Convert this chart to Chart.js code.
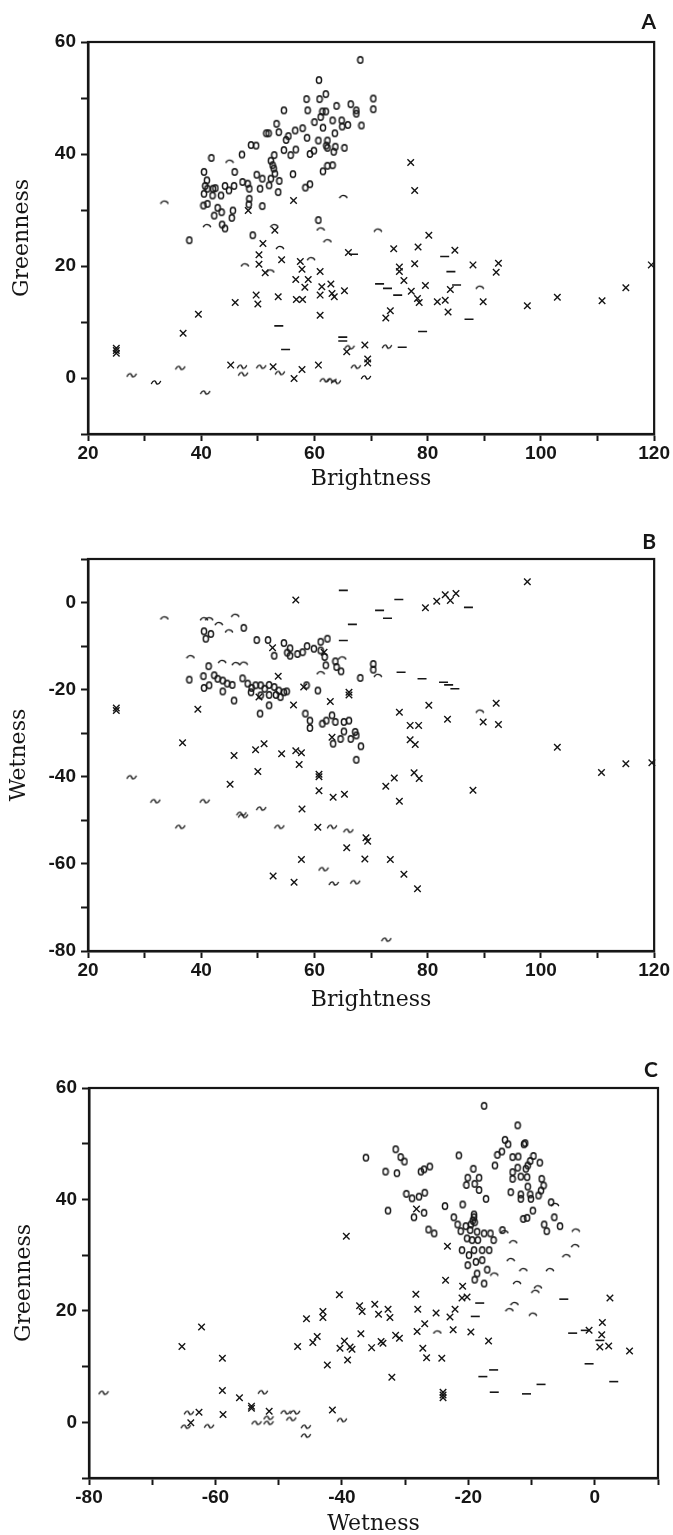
<!DOCTYPE html>
<html>
<head>
<meta charset="utf-8">
<title>Brightness / Greenness / Wetness scatter plots</title>
<script src="https://cdn.jsdelivr.net/npm/chart.js@4.4.1/dist/chart.umd.min.js"></script>
<style>
  html, body { margin: 0; padding: 0; background: #fff; overflow: hidden; }
  body { width: 673px; height: 1535px; position: relative; }
  canvas { position: absolute; left: 0; }
</style>
</head>
<body>
<canvas id="panel-a" width="673" height="500" style="top:0"></canvas>
<canvas id="panel-b" width="673" height="500" style="top:515px"></canvas>
<canvas id="panel-c" width="673" height="495" style="top:1040px"></canvas>
<script>
'use strict';

// ---- data: [x, y] pairs ----

// A: Brightness (x) vs Greenness (y)
const aRings = [[68.1,56.8],[60.8,53.2],[62.0,50.7],[58.6,49.8],[60.9,49.8],[70.4,49.9],[70.4,48.0],[63.9,48.6],[66.4,48.9],[54.6,47.8],[58.8,47.8],[61.4,47.6],[62.0,47.6],[67.4,47.8],[67.4,47.2],[68.3,45.1],[61.1,46.6],[63.2,46.0],[64.8,46.0],[60.0,45.7],[61.5,44.7],[64.9,44.9],[65.9,45.2],[57.9,44.6],[56.6,44.2],[53.3,45.4],[51.5,43.7],[51.9,43.7],[53.7,43.9],[55.4,43.2],[55.0,42.5],[58.7,42.9],[63.6,43.7],[60.7,42.4],[62.3,42.4],[62.1,41.5],[62.3,41.1],[63.7,41.3],[65.3,41.1],[63.4,40.4],[48.8,41.6],[49.7,41.5],[47.2,39.9],[41.8,39.3],[54.6,40.7],[56.7,40.8],[55.8,39.8],[59.2,40.0],[59.9,40.6],[52.3,38.8],[52.9,39.8],[52.6,38.0],[52.8,37.4],[53.0,36.5],[52.3,35.6],[56.2,36.4],[62.3,37.9],[63.2,38.0],[61.5,36.9],[40.5,36.8],[45.9,36.8],[41.0,35.3],[40.7,34.3],[41.1,33.8],[42.1,33.8],[42.5,33.9],[44.2,34.3],[44.9,33.5],[45.8,34.3],[47.3,35.0],[48.2,34.7],[48.5,33.8],[49.8,36.3],[50.8,35.6],[50.4,33.8],[52.0,34.4],[53.8,35.2],[53.6,33.2],[58.4,34.0],[59.2,34.6],[40.5,32.9],[42.0,32.6],[43.5,32.6],[48.5,32.0],[40.4,30.8],[41.1,31.1],[42.9,30.4],[42.3,29.0],[43.6,29.6],[45.6,29.9],[45.4,28.6],[48.4,31.0],[50.8,30.7],[43.7,27.4],[44.2,26.7],[49.1,25.5],[60.7,28.2],[37.9,24.6]];
const aCrosses = [[77.0,38.5],[77.7,33.5],[56.3,31.7],[48.3,29.9],[53.0,26.4],[50.9,24.0],[80.2,25.5],[74.0,23.1],[78.3,23.4],[84.8,22.8],[50.2,22.0],[50.2,20.3],[54.2,21.1],[57.5,20.8],[57.8,19.4],[61.0,19.0],[51.3,18.8],[56.7,17.6],[58.9,17.6],[58.3,16.2],[61.3,16.3],[62.9,16.8],[63.1,15.1],[63.5,14.5],[65.3,15.6],[61.0,14.8],[49.7,14.8],[50.0,13.2],[46.0,13.5],[53.6,14.5],[56.8,14.0],[57.9,14.0],[61.0,11.2],[39.5,11.4],[36.8,8.0],[25.0,5.3],[25.0,4.4],[25.0,4.9],[66.0,22.4],[75.0,19.8],[75.0,19.0],[77.7,20.4],[88.0,20.2],[92.5,20.5],[92.1,18.9],[119.5,20.2],[75.8,17.4],[79.6,16.5],[77.1,15.5],[84.0,15.8],[78.2,14.2],[78.5,13.5],[81.7,13.6],[83.1,13.9],[83.6,11.8],[89.8,13.6],[97.6,12.9],[102.9,14.4],[110.8,13.8],[115.0,16.1],[73.4,12.0],[72.6,10.7],[68.9,5.9],[65.7,4.7],[69.4,3.4],[69.4,2.7],[45.2,2.3],[52.7,2.0],[57.8,1.5],[56.4,-0.1],[60.7,2.3]];
const aTildes = [[27.7,0.5],[32.0,-0.8],[36.3,1.8],[40.7,-2.6],[47.2,2.0],[47.4,0.7],[50.6,2.0],[53.9,0.9],[61.8,-0.4],[63.0,-0.4],[63.8,-0.7],[67.3,2.0],[69.1,0.1],[66.2,5.5],[72.8,5.6]];
const aDashes = [[53.7,9.3],[54.9,5.1],[65.0,7.3],[65.0,6.6],[75.5,5.5],[71.5,16.8],[72.9,16.0],[74.7,14.8],[83.0,21.7],[84.1,19.0],[85.1,16.6],[87.3,10.5],[79.1,8.3],[66.9,22.1]];
const aArches = [[45.0,38.8],[33.5,31.5],[65.1,32.5],[41.0,27.3],[52.9,27.3],[61.1,26.7],[62.3,24.6],[71.2,26.5],[53.9,23.4],[47.7,20.3],[59.4,21.4],[52.2,19.2],[89.2,16.3]];

// B: Brightness (x) vs Wetness (y)
const bRings = [[47.5,-5.8],[40.5,-6.6],[41.7,-7.2],[40.8,-8.3],[49.8,-8.6],[51.8,-8.6],[54.6,-9.3],[61.1,-9.0],[62.3,-8.3],[52.9,-12.2],[55.7,-10.5],[55.7,-12.2],[57.0,-11.8],[58.7,-10.0],[59.9,-10.6],[61.1,-11.0],[61.8,-12.5],[62.0,-14.4],[63.7,-13.5],[63.9,-14.8],[64.7,-15.8],[68.1,-17.3],[70.4,-14.1],[70.4,-15.4],[57.9,-11.4],[55.2,-11.5],[41.3,-14.6],[37.9,-17.7],[40.4,-16.9],[42.3,-16.7],[42.9,-17.5],[43.8,-17.9],[44.6,-18.6],[45.5,-18.9],[40.5,-19.6],[41.4,-19.0],[43.8,-20.4],[45.8,-22.5],[47.3,-17.4],[48.2,-18.6],[48.9,-19.6],[49.6,-19.0],[50.5,-19.0],[51.2,-19.8],[52.0,-18.9],[52.9,-19.4],[53.7,-20.2],[54.6,-20.6],[55.1,-20.4],[48.8,-20.6],[50.5,-21.3],[52.0,-21.2],[53.2,-21.2],[54.0,-21.7],[52.0,-23.6],[50.4,-25.5],[58.6,-19.0],[60.6,-20.2],[58.4,-25.5],[59.2,-27.1],[59.2,-28.8],[61.4,-27.8],[62.1,-27.1],[63.1,-25.9],[63.7,-27.4],[65.2,-27.4],[66.1,-27.1],[65.2,-29.6],[66.4,-31.3],[67.2,-29.7],[67.4,-30.5],[64.6,-31.3],[63.3,-32.4],[68.2,-33.0],[67.4,-36.1]];
const bCrosses = [[56.7,0.6],[79.6,-1.2],[81.6,0.3],[83.1,1.8],[84.0,0.5],[85.0,2.1],[97.6,4.8],[25.0,-24.2],[25.0,-24.8],[39.4,-24.5],[53.6,-16.9],[58.1,-19.4],[66.1,-20.6],[66.1,-21.2],[56.3,-23.5],[62.8,-22.7],[75.0,-25.2],[80.2,-23.6],[83.5,-26.8],[92.1,-23.1],[89.8,-27.4],[92.5,-28.0],[76.9,-28.2],[78.4,-28.2],[76.9,-31.5],[77.8,-32.6],[36.7,-32.2],[49.6,-33.8],[51.1,-32.4],[54.2,-34.7],[56.7,-34.0],[57.7,-34.5],[45.8,-35.1],[52.6,-10.4],[61.7,-11.4],[50.2,-21.7],[63.1,-30.9],[102.9,-33.2],[115.0,-37.0],[110.7,-39.0],[119.6,-36.8],[57.3,-37.2],[50.0,-38.8],[60.8,-39.4],[60.8,-40.0],[45.1,-41.7],[60.8,-43.2],[63.3,-44.7],[65.3,-44.0],[57.8,-47.4],[72.6,-42.2],[74.1,-40.3],[77.6,-39.1],[78.5,-40.4],[75.0,-45.6],[88.0,-43.1],[60.6,-51.6],[69.1,-54.0],[69.4,-54.8],[65.7,-56.3],[57.7,-59.0],[68.9,-58.9],[73.4,-59.0],[75.8,-62.4],[52.7,-62.8],[56.4,-64.2],[78.2,-65.7]];
const bTildes = [[27.7,-40.1],[31.9,-45.6],[40.6,-45.6],[47.1,-48.5],[47.4,-49.0],[50.6,-47.3],[36.3,-51.5],[53.8,-51.5],[63.1,-51.5],[66.0,-52.4],[61.6,-61.2],[63.4,-64.5],[67.2,-64.2],[72.7,-77.4]];
const bDashes = [[65.1,2.8],[74.9,0.7],[71.5,-1.8],[72.9,-3.6],[87.2,-1.1],[66.7,-5.0],[65.1,-8.7],[75.3,-16.0],[79.0,-17.5],[82.8,-18.3],[83.7,-18.9],[84.8,-19.8]];
const bArches = [[33.5,-3.4],[40.5,-3.6],[41.4,-3.6],[43.1,-4.7],[46.0,-2.8],[44.9,-6.4],[38.1,-12.3],[43.7,-13.4],[46.1,-13.9],[47.5,-13.8],[61.1,-16.0],[64.9,-12.6],[89.2,-24.8],[71.2,-16.6]];

// C: Wetness (x) vs Greenness (y)
const cRings = [[-17.5,56.8],[-12.2,53.3],[-14.2,50.7],[-13.7,49.9],[-11.2,49.9],[-11.0,50.1],[-31.5,49.0],[-30.7,47.6],[-30.1,46.8],[-36.2,47.5],[-21.5,47.9],[-15.8,46.1],[-15.4,48.0],[-14.7,48.6],[-13.0,47.6],[-12.1,47.7],[-9.7,47.8],[-8.7,46.6],[-10.2,46.9],[-10.6,46.1],[-33.1,45.0],[-31.3,44.7],[-27.5,45.0],[-27.0,45.4],[-26.1,45.9],[-19.2,45.5],[-20.1,43.9],[-18.3,43.9],[-20.3,42.6],[-19.0,42.8],[-18.3,41.7],[-17.2,40.1],[-13.0,44.9],[-12.2,45.7],[-10.9,45.5],[-11.7,44.1],[-13.0,43.7],[-10.7,44.0],[-10.6,42.3],[-8.4,43.7],[-8.1,42.5],[-8.5,41.6],[-8.9,40.7],[-13.3,41.3],[-11.7,40.9],[-10.2,40.9],[-11.7,40.1],[-10.1,40.1],[-29.8,41.0],[-28.9,40.2],[-27.8,40.5],[-26.9,41.2],[-32.7,38.0],[-28.6,36.8],[-27.0,37.6],[-23.7,38.8],[-20.9,39.1],[-6.9,39.5],[-6.4,36.8],[-5.5,35.2],[-7.6,34.3],[-8.0,35.5],[-9.8,38.0],[-11.3,36.5],[-10.7,36.7],[-22.3,36.8],[-21.7,35.5],[-26.3,34.6],[-25.4,33.9],[-21.2,34.3],[-20.4,35.2],[-19.6,35.5],[-19.1,36.8],[-19.0,35.9],[-19.7,34.5],[-18.6,34.2],[-17.5,33.9],[-16.5,33.9],[-20.2,33.0],[-19.4,32.7],[-18.5,32.7],[-16.0,32.7],[-21.0,30.9],[-19.1,30.9],[-17.8,30.9],[-16.7,30.9],[-19.9,30.0],[-17.8,29.1],[-20.1,28.2],[-18.8,28.8],[-18.6,26.7],[-17.0,27.4],[-19.0,25.6],[-17.5,24.9],[-14.6,34.5],[-19.1,37.3],[-19.3,36.2]];
const cCrosses = [[-39.3,33.4],[-28.2,38.3],[-23.3,31.6],[-23.6,25.5],[-20.9,24.4],[-21.0,22.3],[-20.2,22.5],[-40.4,22.9],[-28.3,23.0],[2.4,22.3],[-37.2,20.9],[-36.8,19.9],[-34.8,21.2],[-34.2,19.4],[-32.7,20.3],[-32.4,18.8],[-28.0,20.3],[-25.1,19.6],[-22.9,18.9],[-22.1,20.3],[-45.6,18.6],[-43.0,19.9],[-43.0,18.8],[-62.2,17.1],[-65.3,13.6],[-58.9,11.5],[-47.0,13.6],[-44.6,14.3],[-43.9,15.4],[-40.3,13.3],[-39.6,14.6],[-38.7,13.5],[-38.4,13.1],[-37.0,15.9],[-35.3,13.4],[-33.8,14.5],[-33.5,14.2],[-31.5,15.6],[-30.9,15.1],[-28.1,16.3],[-26.9,17.7],[-22.4,16.6],[-19.6,16.2],[-16.8,14.6],[-27.2,13.3],[-26.6,11.6],[-24.2,11.5],[-39.1,11.2],[-42.3,10.3],[-32.1,8.1],[-24.0,5.4],[-24.0,4.4],[-24.0,4.9],[-58.9,5.7],[-56.2,4.4],[-54.3,2.9],[-54.3,2.5],[-51.5,2.0],[-62.6,1.8],[-63.9,-0.1],[-58.8,1.4],[-41.5,2.2],[1.2,17.9],[-0.9,16.5],[1.1,15.7],[0.8,13.5],[2.2,13.7],[5.5,12.8]];
const cTildes = [[-77.7,5.3],[-64.2,1.7],[-64.7,-0.8],[-61.0,-0.7],[-52.5,5.4],[-53.5,-0.1],[-51.6,0.8],[-51.6,-0.1],[-48.9,1.8],[-47.4,1.8],[-48.0,0.6],[-45.7,-0.8],[-45.7,-2.4],[-40.0,0.4]];
const cDashes = [[-18.2,21.4],[-18.9,19.0],[-4.9,22.1],[-3.5,16.0],[-1.5,16.5],[-16.0,9.4],[-17.7,8.2],[-15.9,5.4],[-10.8,5.1],[-8.5,6.8],[-0.9,10.5],[3.0,7.3],[0.8,14.7]];
const cArches = [[-14.3,34.3],[-12.9,32.5],[-13.3,29.3],[-11.3,27.5],[-7.1,27.5],[-12.3,25.2],[-9.0,24.4],[-3.0,34.6],[-3.1,31.8],[-4.5,30.0],[-6.3,39.2],[-15.9,26.7],[-9.4,23.6],[-12.7,21.4],[-13.5,20.3],[-9.8,19.5],[-24.9,16.3]];

// axis ranges
const brightnessRange = [20, 120];
const greennessRange = [-10, 60];
const wetnessRangeB = [-80, 10];
const wetnessRangeC = [-80, 10];

const INK = '#161616';

/**
 * Creates a small canvas used as a plot symbol
 *
 * @param {Number} w width
 * @param {Number} h height
 * @param {Function} draw path builder
 * @returns {HTMLCanvasElement} glyph
 */
const makeGlyph = (w, h, draw) => {
  const c = document.createElement('canvas');
  c.width = w;
  c.height = h;
  const ctx = c.getContext('2d');
  ctx.strokeStyle = INK;
  ctx.lineWidth = 1.45;
  ctx.lineCap = 'round';
  ctx.beginPath();
  draw(ctx);
  ctx.stroke();
  return c;
};

const ringGlyph = makeGlyph(8, 10, (ctx) => ctx.ellipse(4, 5, 2.6, 3.3, 0, 0, Math.PI * 2));
const archGlyph = makeGlyph(10, 6, (ctx) => ctx.arc(5, 6.5, 4, Math.PI * 1.15, Math.PI * 1.85));
const tildeGlyph = makeGlyph(12, 7, (ctx) => {
  ctx.moveTo(1.5, 4.5);
  ctx.bezierCurveTo(3.5, 0.8, 5.5, 1.5, 6, 3.5);
  ctx.bezierCurveTo(6.5, 5.5, 8.5, 6.2, 10.5, 2.5);
});

const SYMBOLS = {
  ring: { pointStyle: ringGlyph, pointRadius: 3 },
  cross: { pointStyle: 'crossRot', pointRadius: 4.6, pointBorderWidth: 1.4 },
  tilde: { pointStyle: tildeGlyph, pointRadius: 3 },
  dash: { pointStyle: 'line', pointRadius: 4.5, pointBorderWidth: 1.6 },
  arch: { pointStyle: archGlyph, pointRadius: 3 }
};

const tickFont = { family: "'Liberation Sans', Arial, sans-serif", size: 19, weight: 'bold', lineHeight: 1 };
const titleFont = { family: "'DejaVu Serif', serif", size: 22, lineHeight: 1 };
const letterFont = { family: "Lato, 'Open Sans', sans-serif", size: 21, weight: 'bold', lineHeight: 1.2 };

/**
 * Draws the closed box round the plot area
 */
const framePlugin = {
  id: 'frame',
  afterDatasetsDraw(chart) {
    const { ctx, chartArea: a } = chart;
    ctx.save();
    ctx.strokeStyle = INK;
    ctx.lineWidth = 2.2;
    ctx.strokeRect(a.left, a.top, a.right - a.left, a.bottom - a.top);
    ctx.restore();
  }
};

/**
 * Builds one scatter dataset
 *
 * @param {Array} points [x, y] pairs
 * @param {String} symbol symbol key
 * @returns {Object} dataset
 */
const series = (points, symbol) => Object.assign({
  data: points.map(([x, y]) => ({ x, y })),
  borderColor: INK,
  backgroundColor: 'transparent',
  pointBorderColor: INK,
  pointBackgroundColor: 'transparent',
  showLine: false,
  clip: 6
}, SYMBOLS[symbol]);

/**
 * Builds a linear axis with ticks every 10 and labels every 20
 */
const axis = (range, title, opts) => ({
  type: 'linear',
  min: range[0],
  max: range[1],
  grid: { drawOnChartArea: false, drawTicks: true, tickLength: 7, tickWidth: 2, tickColor: INK },
  border: { display: true, color: INK, width: 2.5 },
  ticks: {
    stepSize: 10,
    autoSkip: false,
    maxRotation: 0,
    padding: opts.tickPadding,
    color: INK,
    font: tickFont,
    callback: (v) => (v % 20 === 0 ? v : '')
  },
  title: { display: true, text: title, color: INK, font: titleFont, padding: opts.titlePadding },
  afterFit: (scale) => { scale[opts.fitProp] = opts.fitSize; }
});

/**
 * One panel of the figure
 */
class Panel {

  constructor(id, spec) {
    this.chart = new Chart(document.getElementById(id), {
      type: 'scatter',
      data: {
        datasets: [
          series(spec.rings, 'ring'),
          series(spec.crosses, 'cross'),
          series(spec.tildes, 'tilde'),
          series(spec.dashes, 'dash'),
          series(spec.arches, 'arch')
        ]
      },
      options: {
        responsive: false,
        animation: false,
        events: [],
        layout: { padding: { left: 0, right: spec.rightPad, top: 0, bottom: 0 } },
        plugins: {
          legend: { display: false },
          tooltip: { enabled: false },
          title: {
            display: true,
            text: spec.letter,
            align: 'end',
            color: INK,
            font: letterFont,
            padding: spec.letterPadding
          }
        },
        scales: {
          x: axis(spec.xRange, spec.xTitle, {
            tickPadding: 3, titlePadding: { top: 0, bottom: spec.xTitleBottom }, fitProp: 'height', fitSize: spec.xHeight
          }),
          y: axis(spec.yRange, spec.yTitle, {
            tickPadding: 5, titlePadding: { top: spec.yTitleTop, bottom: 0 }, fitProp: 'width', fitSize: spec.yWidth
          })
        }
      },
      plugins: [framePlugin]
    });
  }
}

new Panel('panel-a', {
  letter: 'A', letterPadding: { top: 10, bottom: 6.8 },
  rings: aRings, crosses: aCrosses, tildes: aTildes, dashes: aDashes, arches: aArches,
  xRange: brightnessRange, yRange: greennessRange,
  xTitle: 'Brightness', yTitle: 'Greenness',
  xHeight: 66, xTitleBottom: 10, yWidth: 88, yTitleTop: 11, rightPad: 17
});

new Panel('panel-b', {
  letter: 'B', letterPadding: { top: 15, bottom: 3.8 },
  rings: bRings, crosses: bCrosses, tildes: bTildes, dashes: bDashes, arches: bArches,
  xRange: brightnessRange, yRange: wetnessRangeB,
  xTitle: 'Brightness', yTitle: 'Wetness',
  xHeight: 64, xTitleBottom: 4, yWidth: 88, yTitleTop: 8, rightPad: 17
});

new Panel('panel-c', {
  letter: 'C', letterPadding: { top: 18, bottom: 4.8 },
  rings: cRings, crosses: cCrosses, tildes: cTildes, dashes: cDashes, arches: cArches,
  xRange: wetnessRangeC, yRange: greennessRange,
  xTitle: 'Wetness', yTitle: 'Greenness',
  xHeight: 57, xTitleBottom: 0, yWidth: 89, yTitleTop: 13, rightPad: 15
});
</script>
</body>
</html>
